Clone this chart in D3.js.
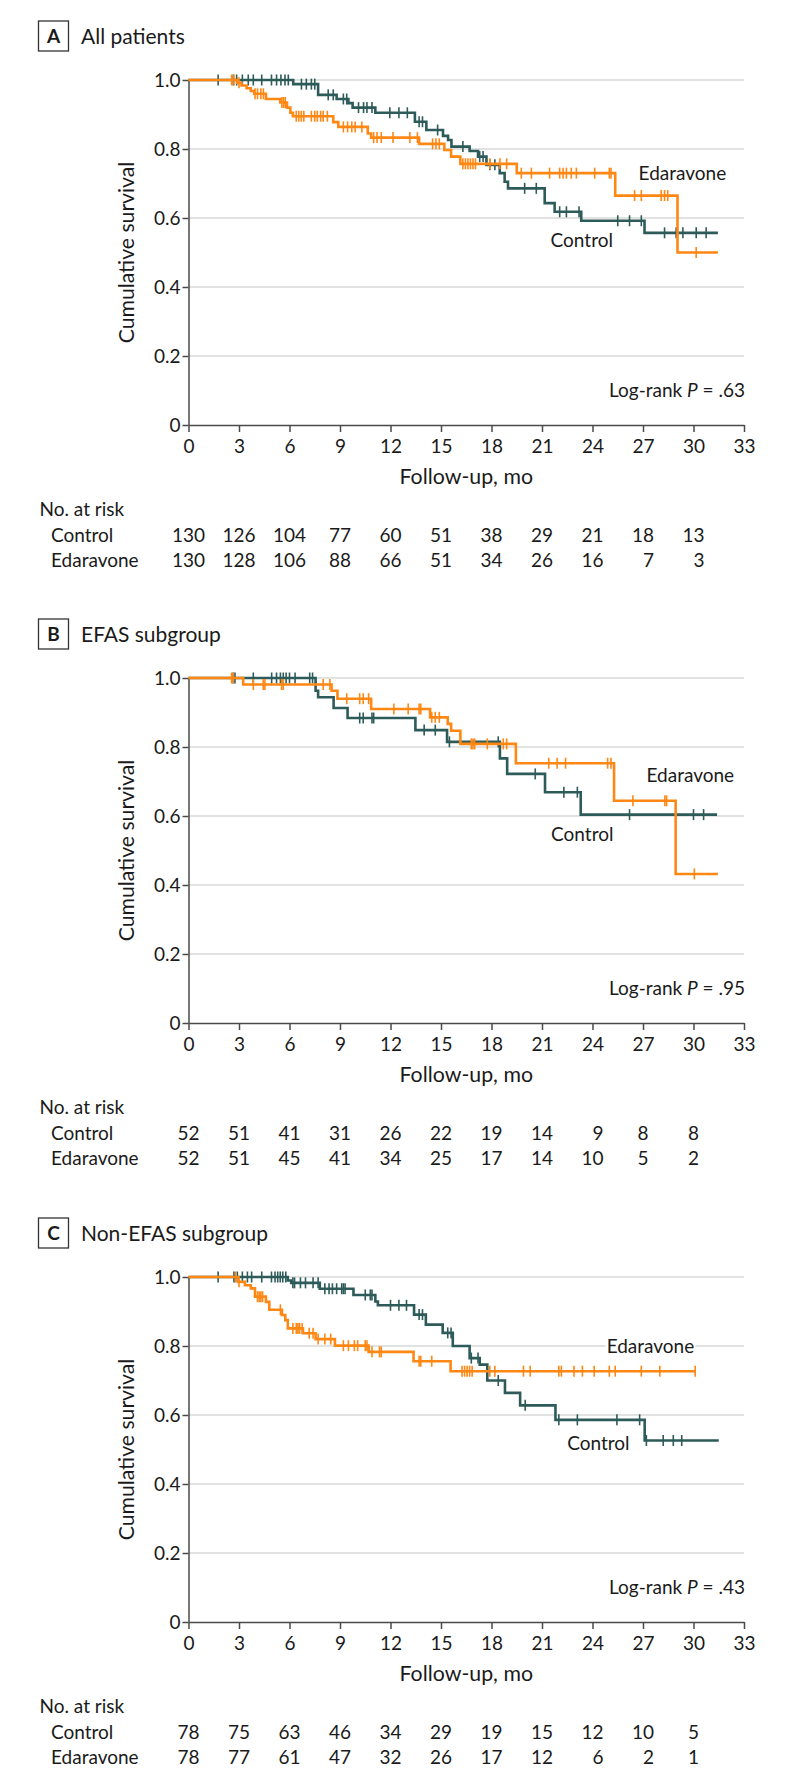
<!DOCTYPE html>
<html><head><meta charset="utf-8">
<script src="https://cdn.jsdelivr.net/npm/d3@7/dist/d3.min.js"></script>
<style>
body{margin:0;background:#fff}
svg{display:block}
text{font-family:Lato,"Open Sans",sans-serif;fill:#1a1a1a}
</style>
</head><body>
<svg id="chart" width="794" height="1784"></svg>
<script>
// ---------------- DATA ----------------
const panelLetters = ["A","B","C"];
const panelTitles = ["All patients","EFAS subgroup","Non-EFAS subgroup"];
const pValues = [".63",".95",".43"];
const monthTicks = [0,3,6,9,12,15,18,21,24,27,30,33];
const yTicks = [0,0.2,0.4,0.6,0.8,1.0];
const yTickLabels = ["0","0.2","0.4","0.6","0.8","1.0"];
const riskTimes = [0,3,6,9,12,15,18,21,24,27,30];
const groups = ["Control","Edaravone"];

const riskControlA = [130,126,104,77,60,51,38,29,21,18,13];
const riskEdaravoneA = [130,128,106,88,66,51,34,26,16,7,3];
const riskControlB = [52,51,41,31,26,22,19,14,9,8,8];
const riskEdaravoneB = [52,51,45,41,34,25,17,14,10,5,2];
const riskControlC = [78,75,63,46,34,29,19,15,12,10,5];
const riskEdaravoneC = [78,77,61,47,32,26,17,12,6,2,1];

// Kaplan-Meier steps: [month, survival]
const controlStepsA = [[0,1],[6.22,0.988],[7.7,0.957],[8.8,0.945],[9.5,0.933],[9.75,0.92],[11.1,0.905],[13.45,0.879],[14.13,0.855],[15.12,0.838],[15.42,0.826],[15.62,0.807],[16.7,0.794],[17.2,0.778],[17.7,0.754],[18.49,0.73],[18.78,0.705],[18.98,0.686],[21.16,0.643],[21.75,0.618],[23.33,0.592],[27.09,0.557]];
const controlEndA = 31.45;
const controlCensorA = [1.76,2.66,2.86,3.2,3.55,3.85,4.35,4.93,5.23,5.49,5.73,5.93,6.71,7.0,7.3,7.5,8.3,8.6,9.2,9.4,10.1,10.4,10.6,10.9,11.96,12.5,13.0,13.7,13.9,14.8,16.3,17.3,17.5,17.9,18.2,19.97,20.66,22.05,22.45,23.2,25.5,26.2,26.9,28.28,28.97,29.37,30.16,30.75];
const edaravoneStepsA = [[0,1],[2.9,0.992],[3.15,0.984],[3.45,0.976],[3.7,0.968],[3.9,0.96],[4.6,0.945],[5.45,0.935],[5.85,0.92],[6.05,0.905],[6.2,0.895],[8.6,0.878],[8.9,0.864],[10.65,0.845],[10.85,0.833],[13.7,0.815],[15.2,0.797],[15.6,0.778],[16.15,0.757],[19.5,0.73],[25.35,0.665],[29.05,0.5]];
const edaravoneEndA = 31.45;
const edaravoneCensorA = [2.56,2.7,3.0,3.95,4.1,4.3,4.45,5.55,5.65,5.75,6.4,6.55,6.7,6.85,7.3,7.5,7.65,7.85,8.0,8.25,9.2,9.45,9.7,9.9,10.3,11.0,11.2,11.45,12.15,13.15,13.6,14.5,14.7,14.9,16.3,16.45,16.6,16.75,16.9,17.05,17.9,18.5,18.9,19.77,20.37,21.45,22.05,22.25,22.45,22.74,23.04,24.13,25.0,25.1,26.5,26.9,28.08,28.28,28.47,30.16];

const controlStepsB = [[0,1],[7.55,0.963],[7.7,0.944],[8.62,0.913],[9.45,0.884],[13.48,0.849],[15.36,0.815],[18.5,0.767],[18.93,0.722],[21.18,0.669],[23.3,0.604]];
const controlEndB = 31.4;
const controlCensorB = [2.66,2.76,3.85,4.94,5.23,5.46,5.63,5.8,6.0,6.33,7.2,7.37,10.17,10.38,10.9,11.0,14.0,14.66,15.5,18.4,20.6,22.3,23.1,26.2,30.0,30.6];
const edaravoneStepsB = [[0,1],[3.25,0.981],[8.5,0.963],[8.85,0.94],[10.85,0.91],[14.35,0.886],[15.4,0.867],[15.6,0.847],[16.15,0.809],[19.45,0.753],[25.28,0.644],[28.94,0.432]];
const edaravoneEndB = 31.45;
const edaravoneCensorB = [2.56,2.66,3.85,4.44,4.54,5.53,5.63,8.0,8.4,9.4,10.17,10.38,10.7,12.2,13.05,13.7,13.8,14.45,14.66,14.9,16.8,16.9,17.0,17.75,18.7,18.9,21.4,21.9,22.4,24.9,25.1,26.4,28.3,28.4,30.05];

const controlStepsC = [[0,1],[5.9,0.99],[6.1,0.983],[7.8,0.966],[9.8,0.948],[11.1,0.929],[11.25,0.918],[13.4,0.891],[14.1,0.862],[15.1,0.838],[15.7,0.8],[16.7,0.765],[17.3,0.746],[17.75,0.7],[18.8,0.664],[19.7,0.628],[21.8,0.586],[27.1,0.526]];
const controlEndC = 31.5;
const controlCensorC = [1.76,2.7,2.9,3.2,3.5,3.75,4.35,4.93,5.14,5.3,5.45,5.6,5.78,6.2,6.3,6.65,6.95,7.4,7.7,8.1,8.35,8.55,8.8,9.1,9.2,9.3,10.5,10.8,10.9,12.0,12.5,12.95,13.7,13.9,15.4,15.6,16.8,17.2,18.4,20.0,22.0,23.1,25.45,26.8,27.2,28.2,28.8,29.3];
const edaravoneStepsC = [[0,1],[2.95,0.986],[3.35,0.976],[3.7,0.967],[3.95,0.943],[4.6,0.928],[4.8,0.905],[5.55,0.89],[5.75,0.875],[5.9,0.851],[6.8,0.837],[7.55,0.82],[8.7,0.801],[10.7,0.783],[13.37,0.756],[15.57,0.727]];
const edaravoneEndC = 30.1;
const edaravoneCensorC = [2.8,3.0,4.1,4.2,4.3,4.4,5.46,6.2,6.4,6.5,6.6,6.75,7.17,7.4,7.7,8.1,8.45,9.2,9.5,9.85,10.05,10.5,10.6,10.9,11.35,11.45,13.7,13.8,14.45,16.25,16.4,16.55,16.7,16.85,17.9,18.2,19.9,20.3,22.0,22.15,22.9,23.4,24.1,25.0,25.35,26.9,28.0,30.1];

// curve label anchors in data units [month, survival]
const labelEdaravone = [[26.74,0.71],[27.21,0.699],[24.84,0.78]];
const labelControl = [[21.51,0.517],[21.54,0.528],[22.5,0.5]];

// ---------------- DRAW ----------------
const colors = {Control:"#2d5b59", Edaravone:"#ff8714"};
const svg = d3.select("#chart");
svg.append("rect").attr("width",794).attr("height",1784).attr("fill","#fff");

const panelTops = [80,678,1277];
const PH = 345;
const FS = 19;

const panelData = [
  {cs:controlStepsA,ce:controlEndA,cc:controlCensorA,es:edaravoneStepsA,ee:edaravoneEndA,ec:edaravoneCensorA,rc:riskControlA,re:riskEdaravoneA},
  {cs:controlStepsB,ce:controlEndB,cc:controlCensorB,es:edaravoneStepsB,ee:edaravoneEndB,ec:edaravoneCensorB,rc:riskControlB,re:riskEdaravoneB},
  {cs:controlStepsC,ce:controlEndC,cc:controlCensorC,es:edaravoneStepsC,ee:edaravoneEndC,ec:edaravoneCensorC,rc:riskControlC,re:riskEdaravoneC}
];

function survAt(steps,t){
  let s = steps[0][1];
  for(const st of steps){ if(st[0] <= t) s = st[1]; }
  return s;
}

panelLetters.forEach((letter,i)=>{
  const top = panelTops[i];
  const pd = panelData[i];
  const x = d3.scaleLinear().domain([0,33]).range([188.5,744]);
  const y = d3.scaleLinear().domain([0,1]).range([top+PH, top]);
  const g = svg.append("g");

  // title
  g.append("rect").attr("x",38.5).attr("y",top-59).attr("width",30).attr("height",30)
    .attr("fill","#fff").attr("stroke","#333").attr("stroke-width",1.3);
  g.append("text").attr("x",53.5).attr("y",top-37).attr("text-anchor","middle")
    .attr("font-size",19).attr("font-weight","bold").text(letter);
  g.append("text").attr("x",81).attr("y",top-36.5).attr("font-size",21).text(panelTitles[i]);

  // grid
  g.append("g").selectAll("line").data(yTicks.filter(v=>v>0)).join("line")
    .attr("x1",x(0)).attr("x2",x(33)).attr("y1",d=>y(d)).attr("y2",d=>y(d))
    .attr("stroke","#d9d9d9").attr("stroke-width",1.6);

  // axes
  const xa = g.append("g").attr("transform",`translate(0,${top+PH})`)
    .call(d3.axisBottom(x).tickValues(monthTicks).tickSize(7).tickSizeOuter(0).tickPadding(8).tickFormat(d=>String(d)));
  const ya = g.append("g").attr("transform",`translate(${x(0)},0)`)
    .call(d3.axisLeft(y).tickValues(yTicks).tickSize(6).tickSizeOuter(0).tickPadding(2).tickFormat((d,k)=>yTickLabels[k]));
  [xa,ya].forEach(a=>{
    a.select(".domain").attr("stroke","#4a4a4a").attr("stroke-width",1.5);
    a.selectAll(".tick line").attr("stroke","#4a4a4a").attr("stroke-width",1.5);
    a.selectAll(".tick text").attr("font-size",FS).attr("font-family",null).attr("fill","#1a1a1a");
    a.attr("font-family",null);
  });

  // axis titles
  g.append("text").attr("x",(x(0)+x(33))/2).attr("y",top+PH+59).attr("text-anchor","middle")
    .attr("font-size",21.3).text("Follow-up, mo");
  g.append("text").attr("transform",`translate(134,${top+PH/2}) rotate(-90)`).attr("text-anchor","middle")
    .attr("font-size",21.2).text("Cumulative survival");

  // log-rank
  const lr = g.append("text").attr("x",x(33)+1).attr("y",top+PH-28).attr("text-anchor","end").attr("font-size",FS);
  lr.append("tspan").text("Log-rank ");
  lr.append("tspan").attr("font-style","italic").text("P");
  lr.append("tspan").text(" = "+pValues[i]);

  // curves
  const line = d3.line().x(d=>x(d[0])).y(d=>y(d[1])).curve(d3.curveStepAfter);
  const series = [
    {name:"Control",steps:pd.cs,end:pd.ce,cens:pd.cc},
    {name:"Edaravone",steps:pd.es,end:pd.ee,cens:pd.ec}
  ];
  series.forEach(s=>{
    const pts = s.steps.concat([[s.end, s.steps[s.steps.length-1][1]]]);
    g.append("path").attr("d",line(pts)).attr("fill","none")
      .attr("stroke",colors[s.name]).attr("stroke-width",2.6).attr("stroke-linejoin","miter");
    g.append("g").selectAll("line").data(s.cens).join("line")
      .attr("x1",d=>x(d)).attr("x2",d=>x(d))
      .attr("y1",d=>y(survAt(s.steps,d))-5.5).attr("y2",d=>y(survAt(s.steps,d))+5.5)
      .attr("stroke",colors[s.name]).attr("stroke-width",1.6);
  });

  // curve labels with white background
  [["Edaravone",labelEdaravone[i]],["Control",labelControl[i]]].forEach(([name,pos])=>{
    const t = g.append("text").attr("x",x(pos[0])).attr("y",y(pos[1])).attr("font-size",FS).text(name);
    const bb = t.node().getBBox();
    g.insert("rect",()=>t.node()).attr("x",bb.x-1).attr("y",bb.y+2).attr("width",bb.width+2).attr("height",bb.height-4).attr("fill","#fff");
  });

  // risk table
  const base = top+PH;
  g.append("text").attr("x",39.5).attr("y",base+91).attr("font-size",FS).text("No. at risk");
  const rows = [pd.rc, pd.re];
  groups.forEach((gn,r)=>{
    g.append("text").attr("x",51).attr("y",base+116.5+25*r).attr("font-size",FS).text(gn);
  });
  riskTimes.forEach((t,c)=>{
    const ts = rows.map((row,r)=> g.append("text").attr("y",base+116.5+25*r).attr("font-size",FS).text(row[c]));
    const w = d3.max(ts,n=>n.node().getComputedTextLength());
    ts.forEach(n=>n.attr("text-anchor","end").attr("x",x(t)+w/2));
  });
});
</script>
</body></html>
